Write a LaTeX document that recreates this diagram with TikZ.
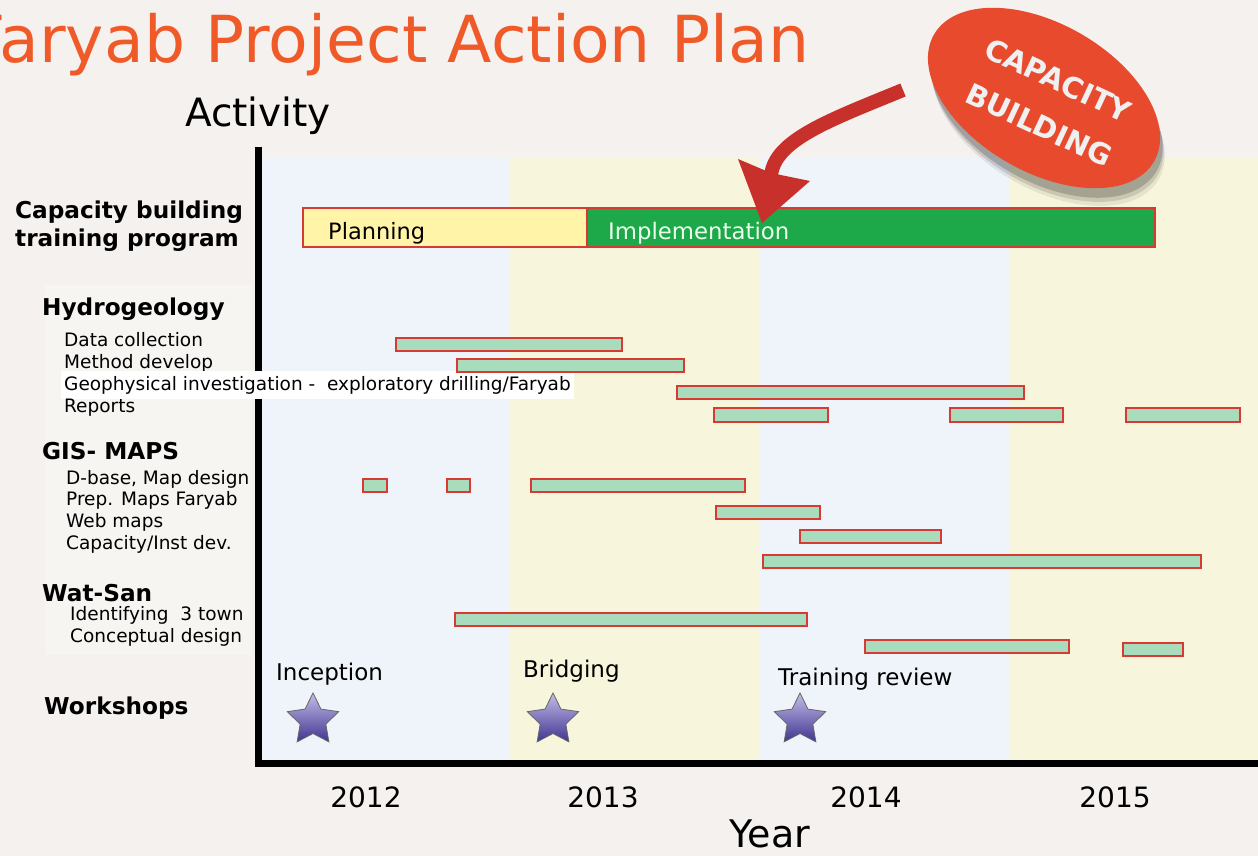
\documentclass[tikz,border=0pt]{standalone}
\usepackage{fontspec}
\setmainfont{DejaVu Sans}
\usetikzlibrary{shapes.geometric}
\definecolor{pagebg}{HTML}{F4F1EE}
\definecolor{labelbg}{HTML}{F7F5F2}
\definecolor{bandblue}{HTML}{EEF4F9}
\definecolor{bandyellow}{HTML}{F7F5DB}
\definecolor{titleorange}{HTML}{F05A28}
\definecolor{planfill}{HTML}{FFF4A8}
\definecolor{implfill}{HTML}{1DA84A}
\definecolor{barred}{HTML}{D63A33}
\definecolor{barfill}{HTML}{A8DCBD}
\definecolor{startop}{HTML}{C4BCEA}
\definecolor{starbot}{HTML}{3F3590}
\definecolor{badgered}{HTML}{E84A2E}
\definecolor{arrowred}{HTML}{C7302B}
\newcommand\ganttbar[4]{\draw[gbar] (#1,#2) rectangle (#3,#4);}
\begin{document}
\begin{tikzpicture}[x=1pt,y=-1pt,
  gbar/.style={draw=barred, line width=1.4pt, fill=barfill},
  grouplbl/.style={anchor=base west, inner sep=0pt, font=\fontsize{23.2}{25}\selectfont\bfseries},
  itemlbl/.style={anchor=base west, inner sep=0pt, font=\fontsize{18.5}{20}\selectfont},
  wslbl/.style={anchor=base west, inner sep=0pt, font=\fontsize{23}{25}\selectfont},
  yearlbl/.style={anchor=base, inner sep=0pt, font=\fontsize{28}{30}\selectfont},
  starnode/.style={star, star points=5, star point ratio=2.0, minimum size=54pt, inner sep=0pt,
    top color=startop, bottom color=starbot, draw=black!60, line width=0.8pt},
  badgelbl/.style={rotate=-25, text=white!94!black, inner sep=0pt, font=\fontsize{29}{30}\selectfont\bfseries},
  axis/.style={line width=7pt, black}
]
\useasboundingbox (0,0) rectangle (1258,856);
\clip (0,0) rectangle (1258,856);
% backgrounds
\fill[pagebg] (0,0) rectangle (1258,856);
\fill[labelbg] (45,285) rectangle (252,655);
\fill[bandblue] (262,158) rectangle (510,760);
\fill[bandyellow] (510,158) rectangle (760,760);
\fill[bandblue] (760,158) rectangle (1010,760);
\fill[bandyellow] (1010,158) rectangle (1258,760);

% title and axis labels
\node[anchor=base west, inner sep=0pt, text=titleorange, font=\fontsize{64.8}{66}\selectfont] (title) at (-32,63) {Faryab Project Action Plan};
\node[anchor=base, inner sep=0pt, font=\fontsize{39}{40}\selectfont] (activity) at (258,127) {Activity};
\node[anchor=base, inner sep=0pt, font=\fontsize{38}{40}\selectfont] (year) at (770,847) {Year};

% axes
\coordinate (axtop) at (258,147);
\coordinate (axcorner) at (258,763.5);
\coordinate (axright) at (1258,763.5);
\draw[axis] (axtop) -- (axcorner);
\draw[axis, line cap=rect] (axcorner) -- (axright);

% year labels
\node[yearlbl] (y2012) at (366,807) {2012};
\node[yearlbl] (y2013) at (603,807) {2013};
\node[yearlbl] (y2014) at (866,807) {2014};
\node[yearlbl] (y2015) at (1115,807) {2015};

% capacity building row
\node[grouplbl] (cbl1) at (15,218) {Capacity building};
\node[grouplbl] (cbl2) at (15,246) {training program};
\draw[draw=barred, line width=1.4pt, fill=planfill] (303,208) rectangle (587,247);
\draw[draw=barred, line width=1.4pt, fill=implfill] (587,208) rectangle (1155,247);
\node[anchor=base west, inner sep=0pt, font=\fontsize{22.5}{24}\selectfont] (planning) at (328,239) {Planning};
\node[anchor=base west, inner sep=0pt, text=white!92!green, font=\fontsize{22.8}{24}\selectfont] (impl) at (608,239) {Implementation};

% Hydrogeology
\node[grouplbl] (hydro) at (42,315) {Hydrogeology};
\node[itemlbl] (h1) at (64,346) {Data collection};
\node[itemlbl] (h2) at (64,368) {Method develop};
\node[itemlbl, fill=white, inner xsep=3pt, inner ysep=5pt] (h3) at (61,390) {Geophysical investigation -\ \ exploratory drilling/Faryab};
\node[itemlbl] (h4) at (64,412) {Reports};
\ganttbar{396}{338}{622}{351}
\ganttbar{457}{359}{684}{372}
\ganttbar{677}{386}{1024}{399}
\ganttbar{714}{408}{828}{422}
\ganttbar{950}{408}{1063}{422}
\ganttbar{1126}{408}{1240}{422}

% GIS
\node[grouplbl] (gis) at (42,459) {GIS- MAPS};
\node[itemlbl] (g1) at (66,484) {D-base, Map design};
\node[itemlbl] (g2) at (66,505) {Prep. Maps Faryab};
\node[itemlbl] (g3) at (66,527) {Web maps};
\node[itemlbl] (g4) at (66,549) {Capacity/Inst dev.};
\ganttbar{363}{479}{387}{492}
\ganttbar{447}{479}{470}{492}
\ganttbar{531}{479}{745}{492}
\ganttbar{716}{506}{820}{519}
\ganttbar{800}{530}{941}{543}
\ganttbar{763}{555}{1201}{568}

% Wat-San
\node[grouplbl] (wat) at (42,601) {Wat-San};
\node[itemlbl] (w1) at (70,620) {Identifying\ \ 3 town};
\node[itemlbl] (w2) at (70,642) {Conceptual design};
\ganttbar{455}{613}{807}{626}
\ganttbar{865}{640}{1069}{653}
\ganttbar{1123}{643}{1183}{656}

% Workshops
\node[grouplbl] (ws) at (44,714) {Workshops};
\node[wslbl] (inc) at (276,680) {Inception};
\node[wslbl] (bri) at (523,677) {Bridging};
\node[wslbl] (tra) at (778,685) {Training review};
\node[starnode] (s1) at (313,720) {};
\node[starnode] (s2) at (553,720) {};
\node[starnode] (s3) at (800,720) {};

% badge with shadow
\foreach \o/\op in {13/0.07, 10/0.12, 7/0.18} {
  \fill[black, opacity=\op, rotate around={-30:(1044,98)}] (1044+\o,98+\o) ellipse [x radius=127, y radius=74];
}
\node[ellipse, fill=badgered, minimum width=254pt, minimum height=148pt, inner sep=0pt, rotate=-30] (badge) at (1044,98) {};
\node[badgelbl] (badge1) at (1058,80) {CAPACITY};
\node[badgelbl] (badge2) at (1039,125) {BUILDING};

% curved red arrow
\coordinate (arrS) at (903,90);
\coordinate (arrE) at (771,176);
\draw[arrowred, line width=14pt] (arrS) .. controls (830,120) and (774,140) .. (arrE);
\fill[arrowred] (738,159) -- (771,173) -- (810,181) -- (762,223) -- cycle;
\end{tikzpicture}
\end{document}
